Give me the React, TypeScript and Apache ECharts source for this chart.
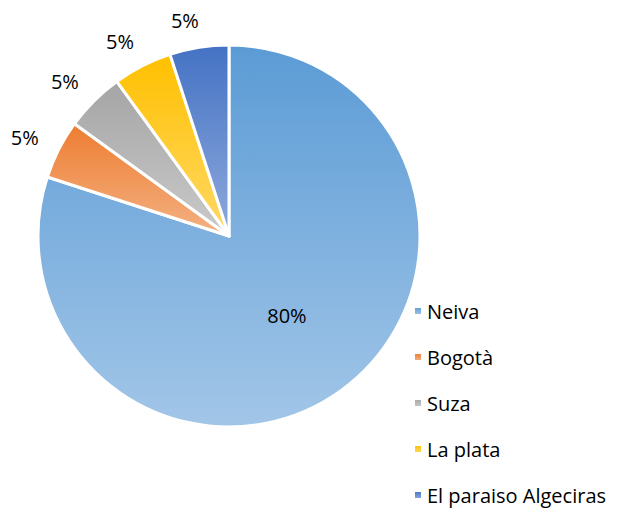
import React, { useEffect, useRef } from "react";
import * as echarts from "echarts";

const categories = ["Neiva", "Bogotà", "Suza", "La plata", "El paraiso Algeciras"];
const values = [80, 5, 5, 5, 5];
const topColors = ["#5B9BD5", "#ED7D31", "#A5A5A5", "#FFC000", "#4472C4"];
const bottomColors = ["#A2C6E8", "#F4B183", "#CACACA", "#FFD966", "#8FAADC"];

export default function App() {
  const ref = useRef<HTMLDivElement>(null);
  useEffect(() => {
    const chart = echarts.init(ref.current!, null, { renderer: "svg" });
    const font = "'Open Sans', 'Noto Sans', sans-serif";
    chart.setOption({
      animation: false,
      textStyle: { fontFamily: font },
      legend: {
        orient: "vertical",
        left: 413,
        top: 301,
        padding: 0,
        itemWidth: 8,
        itemHeight: 8,
        itemGap: 26,
        icon: "rect",
        textStyle: { fontSize: 20, color: "#000", fontFamily: font, lineHeight: 20 },
        data: categories,
      },
      series: [
        {
          type: "pie",
          center: [229, 236],
          radius: [0, 191],
          startAngle: 90,
          clockwise: true,
          avoidLabelOverlap: false,
          itemStyle: { borderColor: "#fff", borderWidth: 3 },
          label: {
            show: true,
            position: "outside",
            formatter: "{d}%",
            fontSize: 20,
            color: "#000",
            fontFamily: font,
            distanceToLabelLine: -4,
          },
          labelLine: { show: false, length: 27, length2: 0 },
          data: categories.map((name, i) => ({
            name,
            value: values[i],
            itemStyle: {
              color: new echarts.graphic.LinearGradient(0, 0, 0, 1, [
                { offset: 0, color: topColors[i] },
                { offset: 1, color: bottomColors[i] },
              ]),
            },
            label: i === 0 ? { position: "inside" } : undefined,
          })),
        },
      ],
    });
    return () => chart.dispose();
  }, []);
  return (
    <div style={{ position: "fixed", left: 0, top: 0, width: 617, height: 510, overflow: "hidden", background: "#fff" }}>
      <div ref={ref} style={{ width: 617, height: 560 }} />
    </div>
  );
}
